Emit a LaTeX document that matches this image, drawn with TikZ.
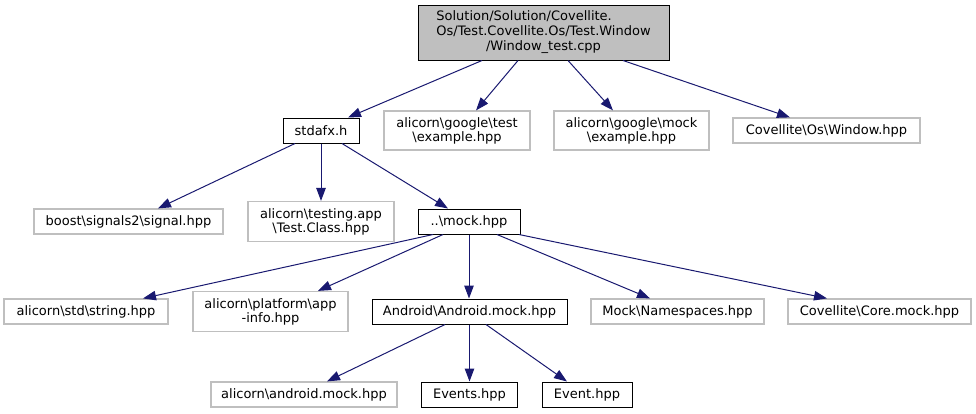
\documentclass[tikz,border=0pt]{standalone}
\usepackage{fontspec}
\setmainfont{DejaVu Sans}
\usetikzlibrary{arrows.meta}
\definecolor{edgeblue}{HTML}{191970}
\definecolor{boxgray}{HTML}{BFBFBF}
\newcommand{\bs}{\textbackslash}
\begin{document}
\begin{tikzpicture}[x=1pt,y=-1pt,
  every node/.style={font=\fontsize{13}{14}\selectfont, inner sep=0pt, align=center},
  darkbox/.style={draw=black, line width=1pt, fill=white, minimum height=25pt},
  lightbox/.style={draw=boxgray, line width=1.2pt, fill=white, minimum height=25pt},
  rootbox/.style={draw=black, line width=1pt, fill=boxgray, minimum height=55pt},
  edge/.style={draw=edgeblue, line width=1pt, -{Triangle[length=13pt,width=9.5pt]}}
]
\useasboundingbox (0,0) rectangle (976,413);
% rank 0
\node[rootbox, minimum width=251pt] (root) at (543.5,32.5)
  {\fontsize{13}{15}\selectfont\begin{tabular}{@{}l@{}}Solution/Solution/Covellite.\\Os/Test.Covellite.Os/Test.Window\\\multicolumn{1}{@{}c@{}}{/Window\_test.cpp}\end{tabular}};
% rank 1
\node[darkbox, minimum width=76pt] (stdafx) at (321,130.5) {stdafx.h};
\node[lightbox, minimum width=146pt, minimum height=39pt] (gtest) at (457,130.5) {alicorn\bs google\bs test\\\bs example.hpp};
\node[lightbox, minimum width=155pt, minimum height=39pt] (gmock) at (631.5,130.5) {alicorn\bs google\bs mock\\\bs example.hpp};
\node[lightbox, minimum width=187pt] (window) at (826.5,130.5) {Covellite\bs Os\bs Window.hpp};
% rank 2
\node[lightbox, minimum width=189pt] (boost) at (128.5,221.5) {boost\bs signals2\bs signal.hpp};
\node[lightbox, minimum width=146pt, minimum height=40pt] (testing) at (321,221.5) {alicorn\bs testing.app\\\bs Test.Class.hpp};
\node[darkbox, minimum width=102pt] (mock) at (469,221.5) {..\bs mock.hpp};
% rank 3
\node[lightbox, minimum width=164pt] (string) at (86,311.5) {alicorn\bs std\bs string.hpp};
\node[lightbox, minimum width=155pt, minimum height=40pt] (platform) at (270.5,311.5) {alicorn\bs platform\bs app\\-info.hpp};
\node[darkbox, minimum width=195pt] (android) at (469.5,311.5) {Android\bs Android.mock.hpp};
\node[lightbox, minimum width=173pt] (namespaces) at (677.5,311.5) {Mock\bs Namespaces.hpp};
\node[lightbox, minimum width=183pt] (core) at (879.5,311.5) {Covellite\bs Core.mock.hpp};
% rank 4
\node[lightbox, minimum width=186pt] (amock) at (304,394.5) {alicorn\bs android.mock.hpp};
\node[darkbox, minimum width=96pt] (events) at (469.5,394.5) {Events.hpp};
\node[darkbox, minimum width=90pt] (event) at (587,394.5) {Event.hpp};
% edges
\draw[edge] ([xshift=-61.5pt]root.south) -- ([xshift=27pt]stdafx.north);
\draw[edge] ([xshift=-25.5pt]root.south) -- ([xshift=19pt]gtest.north);
\draw[edge] ([xshift=24.5pt]root.south) -- ([xshift=-18.5pt]gmock.north);
\draw[edge] ([xshift=79.5pt]root.south) -- ([xshift=-36.5pt]window.north);
\draw[edge] ([xshift=-26pt]stdafx.south) -- ([xshift=29.5pt]boost.north);
\draw[edge] (stdafx.south) -- (testing.north);
\draw[edge] ([xshift=21pt]stdafx.south) -- ([xshift=-21pt]mock.north);
\draw[edge] ([xshift=-36pt]mock.south) -- ([xshift=57pt]string.north);
\draw[edge] ([xshift=-26pt]mock.south) -- ([xshift=47.5pt]platform.north);
\draw[edge] (mock.south) -- ([xshift=-0.5pt]android.north);
\draw[edge] ([xshift=28pt]mock.south) -- ([xshift=-27.5pt]namespaces.north);
\draw[edge] ([xshift=50pt]mock.south) -- ([xshift=-52.5pt]core.north);
\draw[edge] ([xshift=-24.5pt]android.south) -- ([xshift=23pt]amock.north);
\draw[edge] (android.south) -- (events.north);
\draw[edge] ([xshift=16.5pt]android.south) -- ([xshift=-20pt]event.north);
\end{tikzpicture}
\end{document}
